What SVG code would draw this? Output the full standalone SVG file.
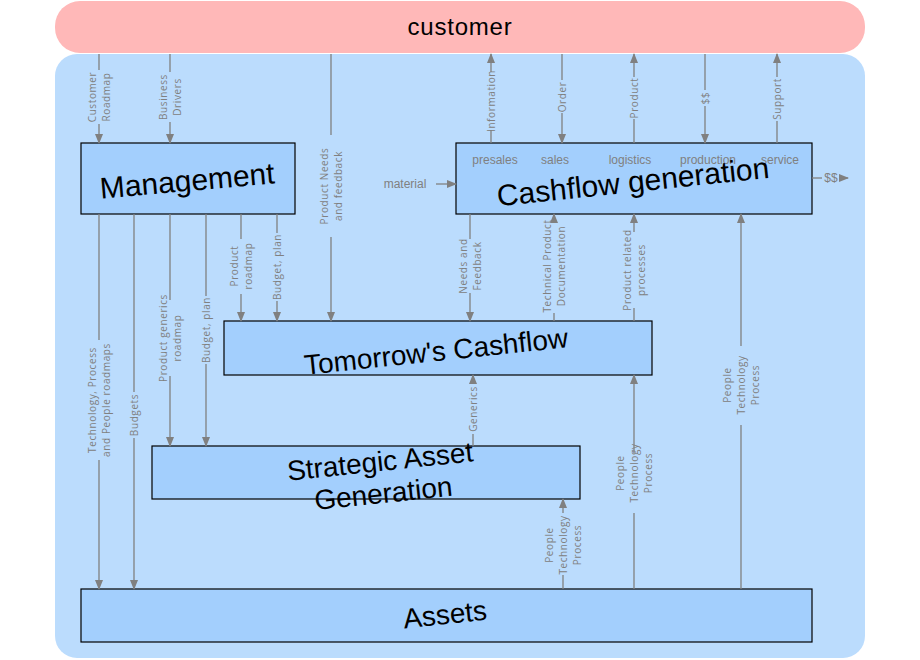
<svg xmlns="http://www.w3.org/2000/svg" width="920" height="660" viewBox="0 0 920 660">
<defs>
<marker id="ah" markerWidth="10" markerHeight="8" refX="9" refY="4" orient="auto" markerUnits="userSpaceOnUse"><path d="M0,0 L10,4 L0,8 z" fill="#808080"/></marker>
<style>
.box{fill:#a3cffd;stroke:#000;stroke-width:1.2}
.t{font-family:"Liberation Sans",Arial,sans-serif;fill:#000;text-anchor:middle}
.c{stroke:#808080;stroke-width:1.3;fill:none}
.a{marker-end:url(#ah)}
.l{font-family:"Open Sans","DejaVu Sans",sans-serif;font-size:10px;letter-spacing:0.6px;fill:#808080;text-anchor:middle}
.s{font-family:"Liberation Sans",Arial,sans-serif;font-size:12px;fill:#808080;text-anchor:middle}
</style>
</defs>
<rect x="55" y="1" width="810" height="52" rx="25" fill="#ffb8b8"/>
<text x="460" y="35" class="t" font-size="24" letter-spacing="0.8">customer</text>
<rect x="55" y="54" width="810" height="604" rx="22" fill="#bbdcfd"/>

<g id="management"><rect class="box" x="81" y="143" width="214" height="71"/><text class="t" font-size="30" transform="translate(188,191) rotate(-5)">Management</text></g>
<g id="cashflow"><rect class="box" x="456" y="143" width="356" height="71"/>
<text class="s" x="495" y="164">presales</text><text class="s" x="555" y="164">sales</text><text class="s" x="630" y="164">logistics</text><text class="s" x="708" y="164">production</text><text class="s" x="780" y="164">service</text>
<text class="t" font-size="30" transform="translate(634,192) rotate(-6)">Cashflow generation</text></g>
<g id="tomorrow"><rect class="box" x="224" y="321" width="428" height="54"/><text class="t" font-size="28" transform="translate(437,361) rotate(-6)">Tomorrow's Cashflow</text></g>
<g id="strategic"><rect class="box" x="152" y="446" width="428" height="53"/><text class="t" font-size="28" transform="translate(381,471) rotate(-6)"><tspan x="0" y="0">Strategic Asset</tspan><tspan x="0" y="32">Generation</tspan></text></g>
<g id="assets"><rect class="box" x="81" y="589" width="731" height="53"/><text class="t" font-size="28" transform="translate(446,624) rotate(-6)">Assets</text></g>

<g id="connectors">
<path class="c" d="M99,54V70"/><path class="c a" d="M99,124V143"/>
<text class="l" transform="translate(99,97) rotate(-90)"><tspan x="0" y="-3.5">Customer</tspan><tspan x="0" y="10.5">Roadmap</tspan></text>
<path class="c" d="M170,54V72"/><path class="c a" d="M170,122V143"/>
<text class="l" transform="translate(170,97) rotate(-90)"><tspan x="0" y="-3.5">Business</tspan><tspan x="0" y="10.5">Drivers</tspan></text>
<path class="c" d="M331,54V135"/><path class="c a" d="M331,237V321"/>
<text class="l" transform="translate(331,186) rotate(-90)"><tspan x="0" y="-3.5">Product Needs</tspan><tspan x="0" y="10.5">and feedback</tspan></text>
<path class="c" d="M491,143V130"/><path class="c a" d="M491,72V54"/>
<text class="l" transform="translate(491,101) rotate(-90)"><tspan x="0" y="3.5">Information</tspan></text>
<path class="c" d="M562,54V80"/><path class="c a" d="M562,113V143"/>
<text class="l" transform="translate(562,97) rotate(-90)"><tspan x="0" y="3.5">Order</tspan></text>
<path class="c" d="M634,143V119"/><path class="c a" d="M634,77V54"/>
<text class="l" transform="translate(634,98) rotate(-90)"><tspan x="0" y="3.5">Product</tspan></text>
<path class="c" d="M705,54V90"/><path class="c a" d="M705,106V143"/>
<text class="l" transform="translate(705,98) rotate(-90)"><tspan x="0" y="3.5">$$</tspan></text>
<path class="c" d="M777,143V121"/><path class="c a" d="M777,77V54"/>
<text class="l" transform="translate(777,99) rotate(-90)"><tspan x="0" y="3.5">Support</tspan></text>
<text class="s" x="405" y="188">material</text>
<path class="c a" d="M436,184H456"/>
<path class="c" d="M812,178H822"/><path class="c a" d="M840,178H848"/>
<text class="s" x="831" y="182">$$</text>
<path class="c" d="M470,214V239"/><path class="c a" d="M470,293V321"/>
<text class="l" transform="translate(470,266) rotate(-90)"><tspan x="0" y="-3.5">Needs and</tspan><tspan x="0" y="10.5">Feedback</tspan></text>
<path class="c" d="M554,321V313"/><path class="c a" d="M554,222V214"/>
<text class="l" transform="translate(554,266) rotate(-90)"><tspan x="0" y="-3.5">Technical Product</tspan><tspan x="0" y="10.5">Documentation</tspan></text>
<path class="c" d="M634,321V308"/><path class="c a" d="M634,232V214"/>
<text class="l" transform="translate(634,270) rotate(-90)"><tspan x="0" y="-3.5">Product related</tspan><tspan x="0" y="10.5">processes</tspan></text>
<path class="c" d="M741,589V425"/><path class="c a" d="M741,346V214"/>
<text class="l" transform="translate(741,385) rotate(-90)"><tspan x="0" y="-10.5">People</tspan><tspan x="0" y="3.5">Technology</tspan><tspan x="0" y="17.5">Process</tspan></text>
<path class="c" d="M241,214V239"/><path class="c a" d="M241,294V321"/>
<text class="l" transform="translate(241,266) rotate(-90)"><tspan x="0" y="-3.5">Product</tspan><tspan x="0" y="10.5">roadmap</tspan></text>
<path class="c" d="M277,214V233"/><path class="c a" d="M277,301V321"/>
<text class="l" transform="translate(277,267) rotate(-90)"><tspan x="0" y="3.5">Budget, plan</tspan></text>
<path class="c" d="M170,214V300"/><path class="c a" d="M170,376V446"/>
<text class="l" transform="translate(170,338) rotate(-90)"><tspan x="0" y="-3.5">Product generics</tspan><tspan x="0" y="10.5">roadmap</tspan></text>
<path class="c" d="M206,214V296"/><path class="c a" d="M206,364V446"/>
<text class="l" transform="translate(206,330) rotate(-90)"><tspan x="0" y="3.5">Budget, plan</tspan></text>
<path class="c" d="M99,214V340"/><path class="c a" d="M99,460V589"/>
<text class="l" transform="translate(99,400) rotate(-90)"><tspan x="0" y="-3.5">Technology, Process</tspan><tspan x="0" y="10.5">and People roadmaps</tspan></text>
<path class="c" d="M134,214V392"/><path class="c a" d="M134,438V589"/>
<text class="l" transform="translate(134,415) rotate(-90)"><tspan x="0" y="3.5">Budgets</tspan></text>
<path class="c" d="M473,446V434"/><path class="c a" d="M473,384V375"/>
<text class="l" transform="translate(473,409) rotate(-90)"><tspan x="0" y="3.5">Generics</tspan></text>
<path class="c" d="M634,589V513"/><path class="c a" d="M634,453V375"/>
<text class="l" transform="translate(634,473) rotate(-90)"><tspan x="0" y="-10.5">People</tspan><tspan x="0" y="3.5">Technology</tspan><tspan x="0" y="17.5">Process</tspan></text>
<path class="c" d="M563,589V575"/><path class="c a" d="M563,513V499"/>
<text class="l" transform="translate(563,545) rotate(-90)"><tspan x="0" y="-10.5">People</tspan><tspan x="0" y="3.5">Technology</tspan><tspan x="0" y="17.5">Process</tspan></text>
</g>
</svg>
